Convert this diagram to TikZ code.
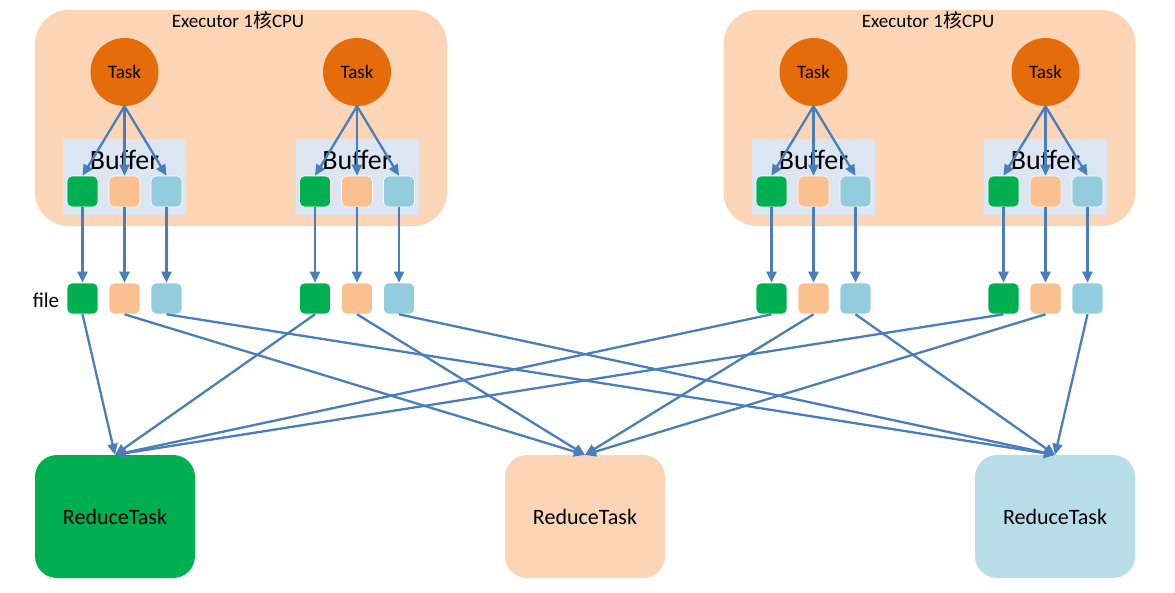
\documentclass[tikz,border=0pt]{standalone}
\usepackage{fontspec}
\setmainfont{Carlito}
\newfontfamily\cjk{Noto Sans CJK SC}
\usetikzlibrary{arrows.meta}
\definecolor{execbg}{HTML}{FBD5B5}
\definecolor{taskfill}{HTML}{E46C0A}
\definecolor{bufbg}{HTML}{DCE6F2}
\definecolor{sqgreen}{HTML}{00B050}
\definecolor{sqorange}{HTML}{FAC090}
\definecolor{sqblue}{HTML}{93CDDD}
\definecolor{redblue}{HTML}{B7DEE8}
\definecolor{arrcol}{HTML}{4A7EBB}
\tikzset{
  execbox/.style={rectangle, rounded corners=34pt, fill=execbg, minimum width=412pt, minimum height=216pt, inner sep=0pt},
  exectitle/.style={font=\fontsize{19}{22}\selectfont, inner sep=0pt},
  taskc/.style={circle, fill=taskfill, minimum size=68pt, inner sep=0pt, font=\fontsize{19}{22}\selectfont},
  bufbox/.style={rectangle, fill=bufbg, minimum width=123pt, minimum height=76pt, inner sep=0pt},
  buftext/.style={inner sep=0pt, font=\fontsize{28}{32}\selectfont},
  sq/.style={rectangle, rounded corners=5pt, minimum size=31pt, inner sep=0pt, draw=white, line width=0.6pt},
  rbox/.style={rectangle, rounded corners=22pt, minimum width=160pt, minimum height=123pt, inner sep=0pt, font=\fontsize{22}{26}\selectfont},
  arr/.style={draw=arrcol, line width=2.3pt, -{Triangle[length=11pt, width=10pt]}},
  lbl/.style={inner sep=0pt, font=\fontsize{21}{24}\selectfont}
}
\begin{document}
\begin{tikzpicture}[x=1pt, y=-1pt]
\useasboundingbox (0,0) rectangle (1175,592);
\node[execbox] (exL) at (241,118) {};
\node[execbox] (exR) at (929.5,118) {};
\node[exectitle] (ttlL) at (238,20) {Executor 1{\cjk 核}CPU};
\node[exectitle] (ttlR) at (928,20) {Executor 1{\cjk 核}CPU};
\node[lbl] (filelbl) at (46,300) {file};
\node[rbox, fill=sqgreen] (rg) at (115,516.5) {ReduceTask};
\node[rbox, fill=execbg] (ro) at (585,516.5) {ReduceTask};
\node[rbox, fill=redblue] (rb) at (1055,516.5) {ReduceTask};
\foreach \i/\x in {1/124.5,2/357,3/813.5,4/1045.5}{
  \node[bufbox] (buf\i) at (\x,177) {};
  \node[buftext] (bt\i) at (\x,160) {Buffer};
  \node[taskc] (t\i) at (\x,72) {Task};
  \foreach \j/\c/\dx in {g/sqgreen/-42, o/sqorange/0, b/sqblue/42}{
    \node[sq, fill=\c] (s\i\j) at (\x+\dx,191.5) {};
    \node[sq, fill=\c] (f\i\j) at (\x+\dx,298.5) {};
    \draw[arr] (t\i.south) -- (s\i\j.north);
    \draw[arr] (s\i\j.south) -- (f\i\j.north);
  }
}
\foreach \i in {1,...,4}{
  \foreach \j/\r in {g/rg, o/ro, b/rb}{
    \draw[arr] (f\i\j.south) -- (\r.north);
  }
}
\end{tikzpicture}
\end{document}
